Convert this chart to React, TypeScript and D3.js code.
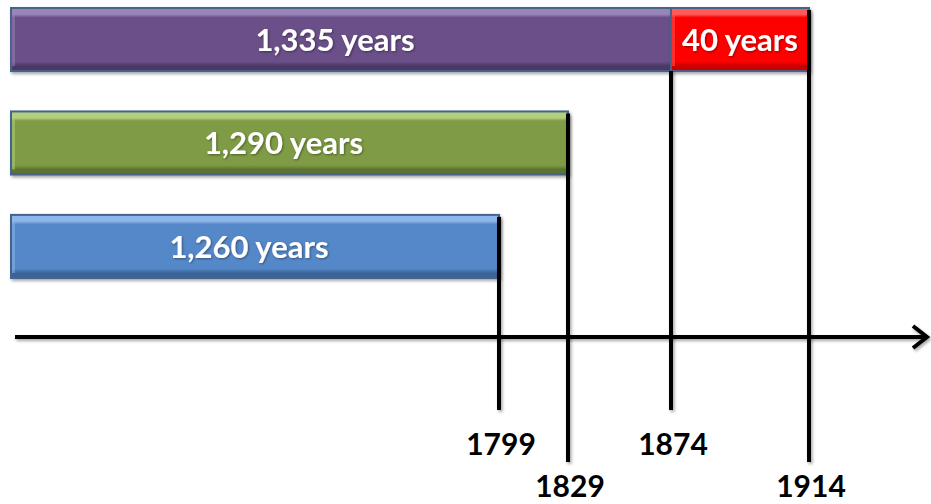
import React from "react";
import * as d3 from "d3";

// timeline segments (years AD)
const segStart = [539, 1874, 539, 539];
const segEnd = [1874, 1914, 1829, 1799];
const segRow = [0, 0, 1, 2];
const segLabel = ["1,335 years", "40 years", "1,290 years", "1,260 years"];
const segColorKey = ["purple", "red", "green", "blue"];

const tickYears = [1799, 1829, 1874, 1914];
const tickLabels = ["1799", "1829", "1874", "1914"];

const palette: Record<string, { light: string; main: string; dark: string; edge: string }> = {
  purple: { light: "#9a84b8", main: "#6a5088", dark: "#4c3766", edge: "#44648c" },
  red: { light: "#ff5a5a", main: "#ff0000", dark: "#c80000", edge: "#44648c" },
  green: { light: "#b4d07c", main: "#7f9b45", dark: "#5c7330", edge: "#44648c" },
  blue: { light: "#8db6ea", main: "#5588c8", dark: "#3a6498", edge: "#44648c" },
};

const W = 931;
const H = 504;
const axisY = 337;

const App = () => {
  // schematic (not proportional) timeline: piecewise scale through the key years
  const x = d3
    .scaleLinear()
    .domain([539, 1799, 1829, 1874, 1914])
    .range([11, 499, 568, 671, 809]);

  const y = d3.scaleBand<number>().domain([0, 1, 2]).range([8, 278]).paddingInner(0.39);

  const font = "Lato, 'Open Sans', sans-serif";

  // vertical marker lines: at each row end they start at the bar top,
  // at an inner boundary they start at the bar bottom
  const markers = tickYears.map((yr, i) => {
    const endIdx = segEnd.indexOf(yr);
    const innerStart = segStart.indexOf(yr);
    let top = 0;
    if (innerStart >= 0) {
      top = y(segRow[innerStart])! + y.bandwidth();
    } else {
      top = y(segRow[endIdx])! + 2;
    }
    const level = i % 2;
    return { yr, label: tickLabels[i], top, level };
  });

  return (
    <svg width={W} height={H} style={{ position: "absolute", left: 0, top: 0 }}>
      <defs>
        <filter id="shadow" filterUnits="userSpaceOnUse" x="0" y="0" width={W} height={H}>
          <feDropShadow dx="1.5" dy="2" stdDeviation="1.5" floodColor="#000" floodOpacity="0.35" />
        </filter>
        <filter id="tshadow" filterUnits="userSpaceOnUse" x="0" y="0" width={W} height={H}>
          <feDropShadow dx="1" dy="1" stdDeviation="0.8" floodColor="#000" floodOpacity="0.4" />
        </filter>
        {Object.entries(palette).map(([k, c]) => (
          <linearGradient key={k} id={`grad-${k}`} x1="0" y1="0" x2="0" y2="1">
            <stop offset="0" stopColor={c.light} />
            <stop offset="0.1" stopColor={c.light} />
            <stop offset="0.15" stopColor={c.main} />
            <stop offset="0.85" stopColor={c.main} />
            <stop offset="0.92" stopColor={c.dark} />
            <stop offset="1" stopColor={c.dark} />
          </linearGradient>
        ))}
      </defs>

      {/* bars */}
      {segStart.map((s, i) => {
        const c = palette[segColorKey[i]];
        const x0 = x(s);
        const x1 = x(segEnd[i]);
        const y0 = y(segRow[i])!;
        return (
          <g key={i} filter="url(#shadow)">
            <rect
              x={x0}
              y={y0}
              width={x1 - x0}
              height={y.bandwidth()}
              fill={`url(#grad-${segColorKey[i]})`}
              stroke={c.edge}
              strokeWidth={2}
            />
            <rect x={x0 + 1} y={y0 + 3} width={3} height={y.bandwidth() - 8} fill={c.light} opacity={0.5} />
          </g>
        );
      })}

      {/* bar labels */}
      {segStart.map((s, i) => (
        <text
          key={i}
          x={(x(s) + x(segEnd[i])) / 2 - (segColorKey[i] === "red" ? 0 : 6)}
          y={y(segRow[i])! + y.bandwidth() / 2}
          dy="0.36em"
          textAnchor="middle"
          fill="#fff"
          fontFamily={font}
          fontWeight="bold"
          fontSize={31}
          filter="url(#tshadow)"
        >
          {segLabel[i]}
        </text>
      ))}

      {/* axis */}
      <g filter="url(#shadow)" stroke="#000" strokeWidth={4} fill="none">
        <line x1={15} y1={axisY} x2={927} y2={axisY} />
        <polyline points={`913,${axisY - 11} 927,${axisY} 913,${axisY + 11}`} strokeLinejoin="miter" />
      </g>

      {/* marker lines and year labels */}
      {markers.map((m) => (
        <g key={m.yr}>
          <line
            x1={x(m.yr)}
            x2={x(m.yr)}
            y1={m.top}
            y2={m.level === 0 ? 410 : 462}
            stroke="#000"
            strokeWidth={4}
            filter="url(#shadow)"
          />
          <text
            x={x(m.yr) + 2}
            y={m.level === 0 ? 455 : 497}
            textAnchor="middle"
            fill="#000"
            fontFamily={font}
            fontWeight="bold"
            fontSize={30}
          >
            {m.label}
          </text>
        </g>
      ))}
    </svg>
  );
};

export default App;
